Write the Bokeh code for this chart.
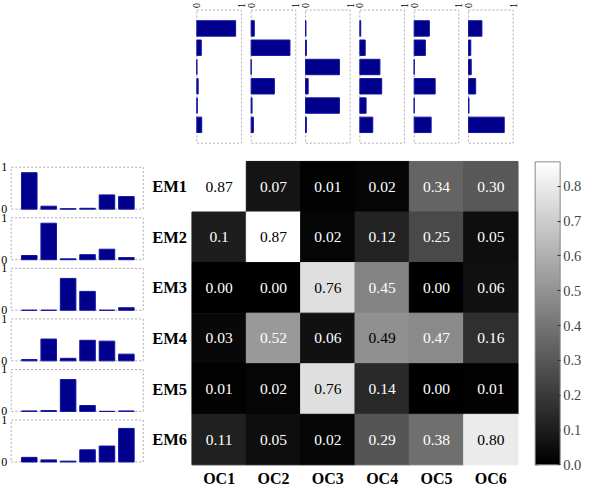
import math
from bokeh.plotting import figure
from bokeh.models import (Range1d, ColumnDataSource, LinearColorMapper, ColorBar,
                          FixedTicker, PrintfTickFormatter)
from bokeh.core.properties import value
from bokeh.palettes import Greys256
from bokeh.embed import file_html
from bokeh.resources import INLINE

# ---------------- data ----------------
em_labels = ["EM1", "EM2", "EM3", "EM4", "EM5", "EM6"]
oc_labels = ["OC1", "OC2", "OC3", "OC4", "OC5", "OC6"]
em1 = [0.87, 0.07, 0.01, 0.02, 0.34, 0.30]
em2 = [0.10, 0.87, 0.02, 0.12, 0.25, 0.05]
em3 = [0.00, 0.00, 0.76, 0.45, 0.00, 0.06]
em4 = [0.03, 0.52, 0.06, 0.49, 0.47, 0.16]
em5 = [0.01, 0.02, 0.76, 0.14, 0.00, 0.01]
em6 = [0.11, 0.05, 0.02, 0.29, 0.38, 0.80]
cbar_ticks = [0.0, 0.1, 0.2, 0.3, 0.4, 0.5, 0.6, 0.7, 0.8]
short_label_cells = [(1, 0)]      # shown with one decimal ("0.1")
dark_text_cells = [(3, 3)]        # label drawn dark on mid grey
matrix = [em1, em2, em3, em4, em5, em6]
bar_pos = [1, 2, 3, 4, 5, 6]

# ---------------- layout ----------------
FIG_W, FIG_H = 584, 488
SX = 584 / 600
SY = 0.962
def X(rx):
    return rx * SX
def Y(ry):
    return ry * SY

HM_L, HM_R = X(196.7), X(531.7)
HM_T, HM_B = Y(167.3), Y(482.7)
col_w = (HM_R - HM_L) / 6
row_h = (HM_B - HM_T) / 6
LB_L, LB_R = X(11), X(146.7)
TB_T, TB_B = Y(10), Y(148.3)
CB_L, CB_R = X(549.3), X(575)

SERIF = value("Liberation Serif")
BAR = "#00008c"
BAR_EDGE = "#1414a0"
BOX = "#aaaaaa"

p = figure(width=FIG_W, height=FIG_H, x_range=Range1d(0, FIG_W), y_range=Range1d(FIG_H, 0),
           output_backend="svg", toolbar_location=None, min_border=0,
           x_axis_location=None, y_axis_location=None)
p.grid.visible = False
p.outline_line_color = None

# ---------------- heatmap ----------------
cmap = LinearColorMapper(palette=Greys256, low=0.0, high=0.87)
xs, ys, vs, labs, tcs = [], [], [], [], []
for i, row in enumerate(matrix):
    for j, v in enumerate(row):
        xs.append(j + 1)
        ys.append(i + 1)
        vs.append(v)
        labs.append(f"{v:.1f}" if (i, j) in short_label_cells else f"{v:.2f}")
        tcs.append("black" if (v > 0.6 or (i, j) in dark_text_cells) else "white")
src = ColumnDataSource(dict(x=xs, y=ys, v=vs, label=labs, tc=tcs))

hm = p.subplot(x_source=Range1d(0.5, 6.5), y_source=Range1d(0.5, 6.5),
               x_target=Range1d(HM_L, HM_R), y_target=Range1d(HM_T, HM_B))
hm.rect(x="x", y="y", width=1, height=1, source=src,
        fill_color={"field": "v", "transform": cmap},
        line_color={"field": "v", "transform": cmap})
hm.text(x="x", y="y", text="label", text_color="tc", source=src,
        text_align="center", text_baseline="middle",
        text_font=SERIF, text_font_size="15.5px")
hm.text(x=[0.5] * 6, y=bar_pos, text=em_labels, x_offset=-5,
        text_align="right", text_baseline="middle", text_color="black",
        text_font=SERIF, text_font_size="16.5px", text_font_style="bold")
hm.text(x=bar_pos, y=[6.5] * 6, text=oc_labels, y_offset=13.5,
        text_align="center", text_baseline="middle", text_color="black",
        text_font=SERIF, text_font_size="16px", text_font_style="bold")

# ---------------- left bar charts (rows) ----------------
for i, row in enumerate(matrix):
    top = HM_T + i * row_h + 6 * SY
    bot = HM_T + (i + 1) * row_h - 3 * SY
    p.quad(left=[LB_L], right=[LB_R], top=[top], bottom=[bot], fill_color=None,
           line_color=BOX, line_dash="2 2", line_width=1)
    sub = p.subplot(x_source=Range1d(0.07, 6.87), y_source=Range1d(0, 1),
                    x_target=Range1d(LB_L, LB_R), y_target=Range1d(bot, top))
    sub.vbar(x=bar_pos, top=row, bottom=0, width=0.8, fill_color=BAR,
             line_color=BAR_EDGE, line_width=1)
    sub.text(x=[0.07, 0.07], y=[1, 0], text=["1", "0"], x_offset=-4,
             text_align="right", text_baseline="middle", text_color="black",
             text_font=SERIF, text_font_size="12px")

# ---------------- top bar charts (columns) ----------------
for j in range(6):
    col = [matrix[i][j] for i in range(6)]
    left = HM_L + j * col_w + 5 * SX
    right = HM_L + (j + 1) * col_w - 5 * SX
    p.quad(left=[left], right=[right], top=[TB_T], bottom=[TB_B], fill_color=None,
           line_color=BOX, line_dash="2 2", line_width=1)
    sub = p.subplot(x_source=Range1d(0, 1), y_source=Range1d(0.05, 6.95),
                    x_target=Range1d(left, right), y_target=Range1d(TB_T, TB_B))
    sub.hbar(y=bar_pos, right=col, left=0, height=0.8, fill_color=BAR,
             line_color=BAR_EDGE, line_width=1)
    sub.text(x=[0, 1], y=[0.05, 0.05], text=["0", "1"], y_offset=-2, angle=math.pi / 2,
             text_align="left", text_baseline="middle", text_color="black",
             text_font=SERIF, text_font_size="10px")

# ---------------- colorbar ----------------
cb = ColorBar(color_mapper=cmap, location=(CB_L, FIG_H - HM_B),
              width=int(round(CB_R - CB_L)),
              height=int(round(HM_B - HM_T)),
              ticker=FixedTicker(ticks=cbar_ticks),
              formatter=PrintfTickFormatter(format="%.1f"),
              major_label_text_font="Liberation Serif", major_label_text_font_size="14.5px",
              label_standoff=3, major_tick_in=3, major_tick_out=0,
              major_tick_line_color="#333333", minor_tick_line_color=None,
              bar_line_color="#888888", border_line_color=None,
              background_fill_alpha=0, padding=0, margin=0)
p.add_layout(cb)

# left-edge ticks of the colour bar
cbs = p.subplot(x_source=Range1d(0, 1), y_source=Range1d(0.0, 0.87),
                x_target=Range1d(CB_L, CB_L + round(CB_R - CB_L)),
                y_target=Range1d(HM_B, HM_B - round(HM_B - HM_T)))
cbs.segment(x0=[0] * len(cbar_ticks), x1=[0.12] * len(cbar_ticks),
            y0=cbar_ticks, y1=cbar_ticks, line_color="#333333", line_width=1)

open("out.html", "w").write(file_html(p, INLINE))
